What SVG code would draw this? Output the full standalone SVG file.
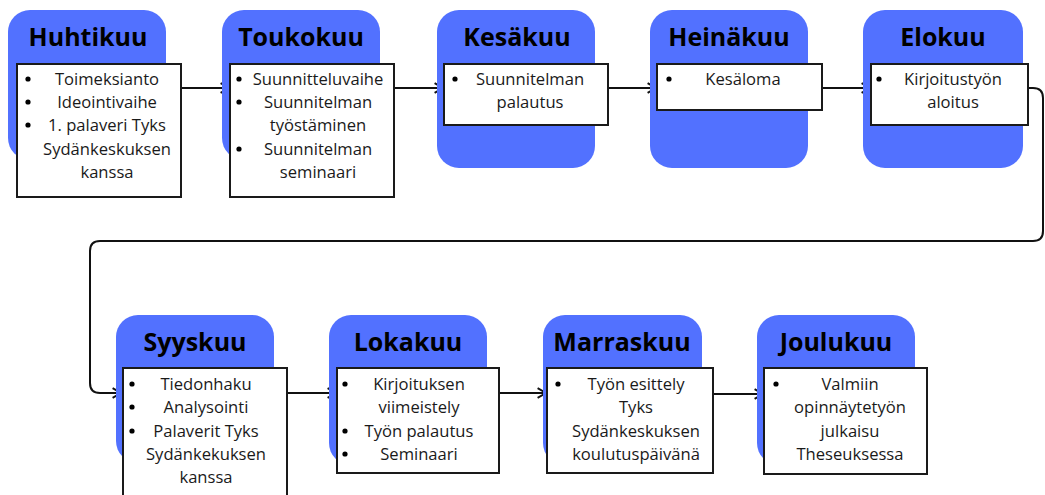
<svg xmlns="http://www.w3.org/2000/svg" width="1045" height="495" viewBox="0 0 1045 495">
<style>
.blue{fill:#5271ff}
.card{fill:#fff;stroke:#1a1a1a;stroke-width:2}
.t{font-family:"Open Sans","Noto Sans",sans-serif;font-weight:700;font-size:25px;fill:#000;text-anchor:middle}
.b{font-family:"Open Sans","Noto Sans",sans-serif;font-size:16.6px;fill:#1a1a1a;text-anchor:middle}
.dot{fill:#000}
.c{fill:none;stroke:#111;stroke-width:2}
</style>
<defs>
<marker id="ah" viewBox="0 0 10 10" refX="9" refY="5" markerWidth="6" markerHeight="6" markerUnits="strokeWidth" orient="auto">
<path d="M2,1 L9,5 L2,9" fill="none" stroke="#111" stroke-width="1.6"/>
</marker>
</defs>
<g id="connectors">
<path class="c" d="M181,88 H229" marker-end="url(#ah)"/>
<path class="c" d="M394,88 H443" marker-end="url(#ah)"/>
<path class="c" d="M608,88 H656" marker-end="url(#ah)"/>
<path class="c" d="M822,88 H870" marker-end="url(#ah)"/>
<path class="c" d="M1028,88 H1033 Q1043,88 1043,98 V231 Q1043,241 1033,241 H100 Q90,241 90,251 V383 Q90,393 100,393 H121" marker-end="url(#ah)"/>
<path class="c" d="M287,393 H336" marker-end="url(#ah)"/>
<path class="c" d="M499,393 H546" marker-end="url(#ah)"/>
<path class="c" d="M713,394 H763" marker-end="url(#ah)"/>
</g>
<g id="huhtikuu">
<rect class="blue" x="8" y="10" width="158" height="150" rx="22"/>
<text class="t" x="88" y="46">Huhtikuu</text>
<rect class="card" x="17" y="64" width="164" height="133"/>
<circle class="dot" cx="28" cy="79" r="2.6"/><circle class="dot" cx="28" cy="102" r="2.6"/><circle class="dot" cx="28" cy="125" r="2.6"/>
<text class="b" x="107" y="85">Toimeksianto</text>
<text class="b" x="107" y="108">Ideointivaihe</text>
<text class="b" x="107" y="131">1. palaveri Tyks</text>
<text class="b" x="107" y="155">Sydänkeskuksen</text>
<text class="b" x="107" y="178">kanssa</text>
</g>
<g id="toukokuu">
<rect class="blue" x="222" y="10" width="158" height="150" rx="22"/>
<text class="t" x="301" y="46">Toukokuu</text>
<rect class="card" x="230" y="64" width="164" height="133"/>
<circle class="dot" cx="239" cy="79" r="2.6"/><circle class="dot" cx="239" cy="102" r="2.6"/><circle class="dot" cx="239" cy="149" r="2.6"/>
<text class="b" x="318" y="85">Suunnitteluvaihe</text>
<text class="b" x="318" y="108">Suunnitelman</text>
<text class="b" x="318" y="131">työstäminen</text>
<text class="b" x="318" y="155">Suunnitelman</text>
<text class="b" x="318" y="178">seminaari</text>
</g>
<g id="kesakuu">
<rect class="blue" x="437" y="10" width="158" height="158" rx="22"/>
<text class="t" x="517" y="46">Kesäkuu</text>
<rect class="card" x="444" y="64" width="164" height="61"/>
<circle class="dot" cx="455" cy="79" r="2.6"/>
<text class="b" x="530" y="85">Suunnitelman</text>
<text class="b" x="530" y="108">palautus</text>
</g>
<g id="heinakuu">
<rect class="blue" x="650" y="10" width="158" height="158" rx="22"/>
<text class="t" x="729" y="46">Heinäkuu</text>
<rect class="card" x="657" y="64" width="165" height="46"/>
<circle class="dot" cx="669" cy="79" r="2.6"/>
<text class="b" x="743" y="85">Kesäloma</text>
</g>
<g id="elokuu">
<rect class="blue" x="863" y="10" width="160" height="158" rx="22"/>
<text class="t" x="943" y="46">Elokuu</text>
<rect class="card" x="871" y="64" width="157" height="61"/>
<circle class="dot" cx="879" cy="79" r="2.6"/>
<text class="b" x="953" y="85">Kirjoitustyön</text>
<text class="b" x="953" y="108">aloitus</text>
</g>
<g id="syyskuu">
<rect class="blue" x="116" y="315" width="158" height="148" rx="22"/>
<text class="t" x="195" y="351">Syyskuu</text>
<rect class="card" x="123" y="368" width="164" height="140"/>
<circle class="dot" cx="132" cy="384" r="2.6"/><circle class="dot" cx="132" cy="407" r="2.6"/><circle class="dot" cx="132" cy="431" r="2.6"/>
<text class="b" x="206" y="390">Tiedonhaku</text>
<text class="b" x="206" y="413">Analysointi</text>
<text class="b" x="206" y="437">Palaverit Tyks</text>
<text class="b" x="206" y="460">Sydänkekuksen</text>
<text class="b" x="206" y="483">kanssa</text>
</g>
<g id="lokakuu">
<rect class="blue" x="329" y="315" width="158" height="150" rx="22"/>
<text class="t" x="408" y="351">Lokakuu</text>
<rect class="card" x="337" y="368" width="162" height="105"/>
<circle class="dot" cx="345" cy="384" r="2.6"/><circle class="dot" cx="345" cy="431" r="2.6"/><circle class="dot" cx="345" cy="454" r="2.6"/>
<text class="b" x="419" y="390">Kirjoituksen</text>
<text class="b" x="419" y="413">viimeistely</text>
<text class="b" x="419" y="437">Työn palautus</text>
<text class="b" x="419" y="460">Seminaari</text>
</g>
<g id="marraskuu">
<rect class="blue" x="543" y="315" width="159" height="150" rx="22"/>
<text class="t" x="622" y="351">Marraskuu</text>
<rect class="card" x="547" y="368" width="166" height="105"/>
<circle class="dot" cx="558" cy="384" r="2.6"/>
<text class="b" x="636" y="390">Työn esittely</text>
<text class="b" x="636" y="413">Tyks</text>
<text class="b" x="636" y="437">Sydänkeskuksen</text>
<text class="b" x="636" y="460">koulutuspäivänä</text>
</g>
<g id="joulukuu">
<rect class="blue" x="757" y="315" width="158" height="150" rx="22"/>
<text class="t" x="836" y="351">Joulukuu</text>
<rect class="card" x="764" y="368" width="163" height="106"/>
<circle class="dot" cx="776" cy="384" r="2.6"/>
<text class="b" x="850" y="390">Valmiin</text>
<text class="b" x="850" y="413">opinnäytetyön</text>
<text class="b" x="850" y="437">julkaisu</text>
<text class="b" x="850" y="460">Theseuksessa</text>
</g>
</svg>
